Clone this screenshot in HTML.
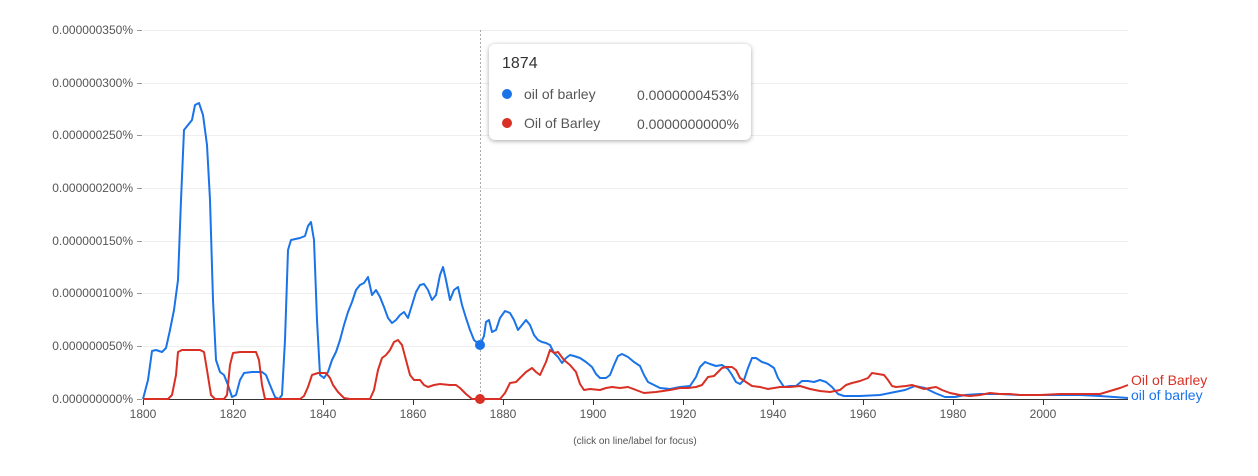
<!DOCTYPE html>
<html><head><meta charset="utf-8"><style>
body{margin:0;background:#fff;font-family:"Liberation Sans",sans-serif}
svg text{font-family:"Liberation Sans",sans-serif}
.tip{position:absolute;left:489px;top:44px;width:262px;height:96px;background:#fff;border-radius:6px;box-shadow:0 1px 5px rgba(0,0,0,.35);font-size:14px;color:#555}
</style></head><body>
<svg width="1258" height="476" style="position:absolute;left:0;top:0">
<g stroke="#eee" stroke-width="1">
<line x1="143" x2="1128" y1="30.5" y2="30.5"/><line x1="143" x2="1128" y1="83.5" y2="83.5"/><line x1="143" x2="1128" y1="135.5" y2="135.5"/><line x1="143" x2="1128" y1="188.5" y2="188.5"/><line x1="143" x2="1128" y1="241.5" y2="241.5"/><line x1="143" x2="1128" y1="293.5" y2="293.5"/><line x1="143" x2="1128" y1="346.5" y2="346.5"/>
</g>
<g stroke="#999" stroke-width="1">
<line x1="137" x2="142" y1="30.5" y2="30.5"/><line x1="137" x2="142" y1="83.5" y2="83.5"/><line x1="137" x2="142" y1="135.5" y2="135.5"/><line x1="137" x2="142" y1="188.5" y2="188.5"/><line x1="137" x2="142" y1="241.5" y2="241.5"/><line x1="137" x2="142" y1="293.5" y2="293.5"/><line x1="137" x2="142" y1="346.5" y2="346.5"/><line x1="137" x2="142" y1="399.5" y2="399.5"/>
<line x1="143" x2="1128" y1="399.5" y2="399.5" stroke="#333"/>
</g>
<g font-size="12" fill="#555" text-anchor="end">
<text x="133" y="34">0.000000350%</text><text x="133" y="87">0.000000300%</text><text x="133" y="139">0.000000250%</text><text x="133" y="192">0.000000200%</text><text x="133" y="245">0.000000150%</text><text x="133" y="297">0.000000100%</text><text x="133" y="350">0.000000050%</text><text x="133" y="403">0.000000000%</text>
</g>
<g stroke="#333"><line x1="143.5" x2="143.5" y1="399" y2="405"/><line x1="233.5" x2="233.5" y1="399" y2="405"/><line x1="323.5" x2="323.5" y1="399" y2="405"/><line x1="413.5" x2="413.5" y1="399" y2="405"/><line x1="503.5" x2="503.5" y1="399" y2="405"/><line x1="593.5" x2="593.5" y1="399" y2="405"/><line x1="683.5" x2="683.5" y1="399" y2="405"/><line x1="773.5" x2="773.5" y1="399" y2="405"/><line x1="863.5" x2="863.5" y1="399" y2="405"/><line x1="953.5" x2="953.5" y1="399" y2="405"/><line x1="1043.5" x2="1043.5" y1="399" y2="405"/></g>
<g font-size="12" fill="#555" text-anchor="middle">
<text x="143" y="418">1800</text><text x="233" y="418">1820</text><text x="323" y="418">1840</text><text x="413" y="418">1860</text><text x="503" y="418">1880</text><text x="593" y="418">1900</text><text x="683" y="418">1920</text><text x="773" y="418">1940</text><text x="863" y="418">1960</text><text x="953" y="418">1980</text><text x="1043" y="418">2000</text>
<text x="635" y="444" font-size="10">(click on line/label for focus)</text>
</g>
<line x1="480.5" x2="480.5" y1="30" y2="399" stroke="#aaa" stroke-dasharray="2,2"/>
<polyline fill="none" stroke="#1a73e8" stroke-width="2" stroke-linejoin="round" points="143,399 148,380 152,351 156,350 162,352 166,348 170,330 174,310 178,280 181,200 184,130 188,125 192,120 195,105 199,103 203,115 207,145 210,200 213,300 216,360 220,372 224,375 228,385 232,397 236,395 240,380 244,373 252,372 262,372 266,375 270,385 275,397 279,399 282,395 285,340 288,250 291,240 300,238 305,236 308,226 311,222 314,240 317,320 320,375 324,378 328,372 332,360 336,352 340,340 344,325 348,312 352,302 356,290 360,285 364,283 368,277 372,295 376,290 380,297 384,307 388,318 392,323 396,320 400,315 404,312 408,318 412,305 416,292 420,285 424,284 428,290 432,300 436,295 440,275 443,267 446,280 450,300 454,290 458,287 462,305 466,318 470,330 474,340 480,345 484,336 486,322 489,320 492,332 496,330 500,318 505,311 510,313 514,320 518,330 522,325 526,320 530,325 534,335 538,340 542,342 546,343 550,345 554,353 558,357 562,363 566,358 570,355 574,356 580,358 586,362 592,367 596,374 600,378 606,378 610,375 614,365 618,356 622,354 628,357 634,362 640,366 644,375 648,382 654,385 660,388 670,389 680,387 690,386 696,377 700,367 705,362 710,364 716,366 722,365 728,369 732,375 736,382 740,384 744,380 748,368 752,358 756,358 762,362 768,364 774,368 778,378 784,387 790,386 796,386 802,381 808,381 814,382 820,380 826,382 832,387 838,394 844,396 860,396 880,395 895,392 905,390 915,386 925,388 935,393 945,397 955,397 965,395 980,394 1000,394 1020,395 1040,395 1060,395 1080,395 1100,396 1128,398"/>
<polyline fill="none" stroke="#d93025" stroke-width="2" stroke-linejoin="round" points="143,399 168,399 172,395 176,375 178,352 182,350 200,350 204,352 207,370 211,395 215,399 224,399 227,395 230,365 233,353 240,352 256,352 259,360 262,385 265,399 300,399 304,396 308,387 312,375 318,373 326,373 330,378 333,385 338,392 344,398 350,399 370,399 374,390 378,370 382,358 386,355 390,350 394,342 398,340 402,345 406,360 410,375 414,380 420,380 424,385 428,387 434,385 440,384 450,385 456,385 460,388 466,394 472,399 500,399 505,393 510,383 516,382 520,378 526,372 532,368 536,372 540,375 546,362 550,350 554,353 558,352 564,360 570,365 576,372 580,384 584,390 590,389 600,390 606,388 612,387 620,388 628,387 636,390 644,393 656,392 670,390 680,388 688,388 696,387 702,385 708,377 714,376 718,372 722,368 726,367 732,367 736,370 740,378 746,382 752,386 760,387 768,389 780,387 790,387 800,386 810,389 820,391 830,392 840,390 846,385 852,383 860,381 868,378 872,373 878,374 884,375 888,380 892,386 896,387 906,386 912,385 918,387 924,389 930,388 936,387 942,390 950,393 960,395 970,396 980,395 990,393 1000,394 1010,394 1020,395 1030,395 1040,395 1060,394 1080,394 1100,394 1110,391 1120,388 1128,385"/>
<circle cx="480" cy="345" r="5" fill="#1a73e8"/>
<circle cx="480" cy="399" r="5" fill="#d93025"/>
<text x="1131" y="385" font-size="14" fill="#d93025">Oil of Barley</text>
<text x="1131" y="400" font-size="14" fill="#1a73e8">oil of barley</text>
</svg>
<div class="tip">
<div style="position:absolute;left:13px;top:11px;font-size:16px;color:#333">1874</div>
<div style="position:absolute;left:13px;top:45px;width:10px;height:10px;border-radius:50%;background:#1a73e8"></div>
<div style="position:absolute;left:35px;top:42px">oil of barley</div>
<div style="position:absolute;right:12px;top:43px">0.0000000453%</div>
<div style="position:absolute;left:13px;top:74px;width:10px;height:10px;border-radius:50%;background:#d93025"></div>
<div style="position:absolute;left:35px;top:71px">Oil of Barley</div>
<div style="position:absolute;right:12px;top:72px">0.0000000000%</div>
</div>
</body></html>
